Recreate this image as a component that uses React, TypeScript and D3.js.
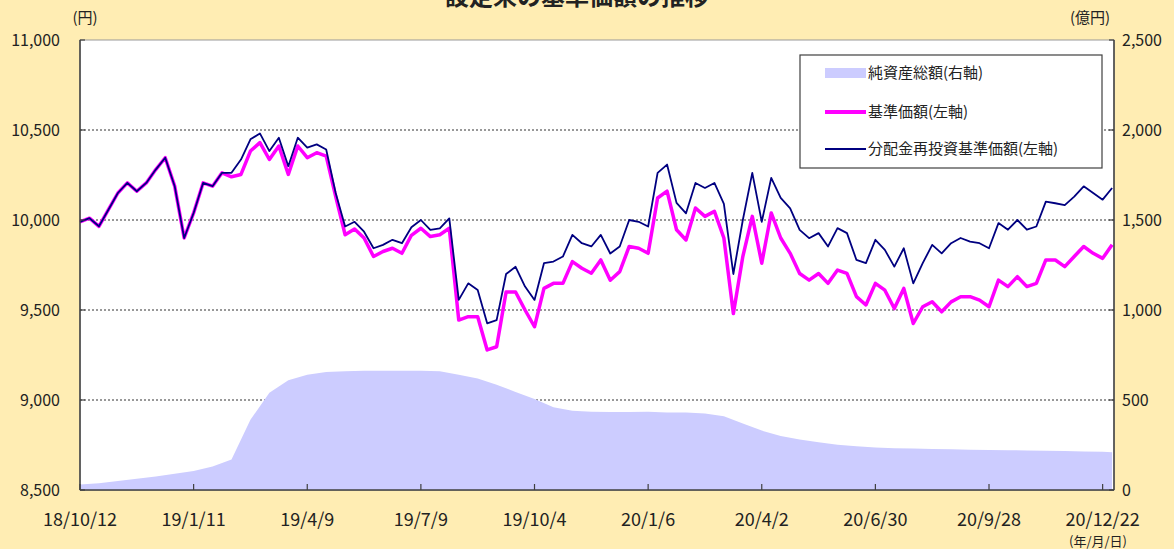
import React from 'react';
import * as d3 from 'd3';

// chart text
const TITLE = '設定来の基準価額の推移';
const X_LABELS = ['18/10/12', '19/1/11', '19/4/9', '19/7/9', '19/10/4', '20/1/6', '20/4/2', '20/6/30', '20/9/28', '20/12/22'];
const X_TICK_IDX = [0, 60, 120, 180, 240, 300, 360, 420, 480, 540];
const LEFT_TICKS = [8500, 9000, 9500, 10000, 10500, 11000];
const RIGHT_TICKS = [0, 500, 1000, 1500, 2000, 2500];
const GRID_TICKS = [9000, 9500, 10000, 10500];
const LEGEND = ['純資産総額(右軸)', '基準価額(左軸)', '分配金再投資基準価額(左軸)'];

// business-day index of each line sample
const LINE_IDX = d3.range(0, 546, 5);

// 分配金再投資基準価額 (円)
const NAV_REINVEST = [
  9990, 10010, 9965, 10057, 10150, 10206, 10160, 10206, 10280, 10346,
  10188, 9900, 10039, 10206, 10188, 10262, 10262, 10336, 10448, 10481,
  10383, 10457, 10299, 10457, 10402, 10420, 10392, 10150, 9964, 9990,
  9935, 9843, 9862, 9890, 9871, 9960, 10000, 9945, 9954, 10009,
  9556, 9648, 9611, 9426, 9444, 9700, 9740, 9630, 9556, 9760,
  9769, 9797, 9917, 9871, 9853, 9917, 9814, 9853, 10000, 9990,
  9964, 10262, 10308, 10095, 10037, 10206, 10178, 10206, 10090, 9700,
  10000, 10262, 9990, 10234, 10123, 10065, 9945, 9899, 9927, 9853,
  9955, 9927, 9778, 9760, 9890, 9834, 9741, 9843, 9648, 9760,
  9862, 9815, 9871, 9900, 9880, 9871, 9843, 9983, 9946, 10000,
  9946, 9964, 10102, 10093, 10083, 10130, 10187, 10150, 10113, 10178,
];

// 基準価額 (円)
const NAV = [
  9990, 10010, 9965, 10057, 10150, 10206, 10160, 10206, 10280, 10346,
  10188, 9900, 10039, 10206, 10188, 10262, 10240, 10253, 10383, 10430,
  10336, 10411, 10253, 10411, 10346, 10374, 10355, 10132, 9918, 9950,
  9900, 9797, 9825, 9843, 9815, 9915, 9954, 9908, 9918, 9954,
  9444, 9463, 9463, 9278, 9296, 9600, 9600, 9500, 9407, 9620,
  9648, 9648, 9769, 9732, 9704, 9778, 9665, 9713, 9853, 9843,
  9815, 10122, 10160, 9946, 9889, 10067, 10020, 10048, 9900, 9480,
  9797, 10020, 9760, 10039, 9900, 9815, 9703, 9666, 9703, 9648,
  9722, 9703, 9574, 9528, 9648, 9610, 9508, 9620, 9425, 9518,
  9546, 9490, 9545, 9574, 9574, 9555, 9518, 9666, 9630, 9685,
  9630, 9648, 9778, 9778, 9741, 9797, 9853, 9815, 9787, 9862,
];

// 純資産総額 (億円)
const ASSET_IDX = [
  0, 10, 20, 30, 40, 50, 60, 70, 80, 90, 100, 110, 120, 130, 140, 150, 160, 170, 180, 190,
  200, 210, 220, 230, 240, 250, 260, 270, 280, 290, 300, 310, 320, 330, 340, 350, 360, 370, 380, 390,
  400, 410, 420, 430, 440, 450, 460, 470, 480, 490, 500, 510, 520, 530, 540, 545,
];
const ASSETS = [
  30, 38, 50, 62, 75, 90, 105, 130, 170, 390, 540, 610, 640, 655, 660, 662, 662, 662, 662, 660,
  640, 620, 585, 545, 505, 460, 440, 435, 433, 433, 435, 430, 430, 425, 410, 370, 330, 300, 280, 265,
  252, 243, 236, 232, 230, 228, 226, 224, 222, 221, 220, 218, 216, 214, 212, 210,
];

const W = 1174;
const H = 549;
const M = { left: 80, right: 1114, top: 40, bottom: 490 };
const FONT = "'Noto Sans CJK JP', 'Noto Sans', sans-serif";
const BG = '#FFEDB3';
const AREA_COLOR = '#CCCCFF';
const PINK = '#FF00FF';
const NAVY = '#000080';
const INK = '#222';

export default function App() {
  const x = d3.scaleLinear().domain([0, 546]).range([M.left, M.right]);
  const yL = d3.scaleLinear().domain([8500, 11000]).range([M.bottom, M.top]);
  const yR = d3.scaleLinear().domain([0, 2500]).range([M.bottom, M.top]);

  const area = d3.area<number>()
    .x((_, i) => x(ASSET_IDX[i]))
    .y0(M.bottom)
    .y1(d => yR(d));

  const line = d3.line<number>()
    .x((_, i) => x(LINE_IDX[i]))
    .y(d => yL(d));

  const lg = { x: 800, y: 55, w: 302, h: 113 };

  return (
    <div style={{ position: 'fixed', left: 0, top: 0 }}>
      <svg width={W} height={H} style={{ display: 'block', fontFamily: FONT }}>
        <rect x={0} y={0} width={W} height={H} fill={BG} />
        {/* title is cut off at the top edge, as in the source image */}
        <text x={577} y={5} textAnchor="middle" fontSize={24} fontWeight="bold" fill={INK}>{TITLE}</text>

        {/* plot area */}
        <rect x={M.left} y={M.top} width={M.right - M.left} height={M.bottom - M.top} fill="#fff" stroke="#9a9a9a" strokeWidth={1} />

        {GRID_TICKS.map(t => (
          <line key={t} x1={M.left} x2={M.right} y1={yL(t)} y2={yL(t)} stroke="#333" strokeWidth={1} strokeDasharray="2 2" />
        ))}

        <path d={area(ASSETS) || ''} fill={AREA_COLOR} />
        <path d={line(NAV) || ''} fill="none" stroke={PINK} strokeWidth={3.5} strokeLinejoin="round" />
        <path d={line(NAV_REINVEST) || ''} fill="none" stroke={NAVY} strokeWidth={1.8} strokeLinejoin="round" />

        {/* axes */}
        <line x1={M.left} x2={M.left} y1={M.top} y2={M.bottom} stroke="#404040" strokeWidth={1.5} />
        <line x1={M.right} x2={M.right} y1={M.top} y2={M.bottom} stroke="#404040" strokeWidth={1.5} />
        <line x1={M.left} x2={M.right} y1={M.bottom} y2={M.bottom} stroke="#404040" strokeWidth={1.5} />

        {LEFT_TICKS.map(t => (
          <g key={t}>
            <line x1={M.left} x2={M.left + 5} y1={yL(t)} y2={yL(t)} stroke="#404040" strokeWidth={1.2} />
            <text x={60} y={yL(t)} dy="0.35em" textAnchor="end" fontSize={16} fill={INK}>{d3.format(',')(t)}</text>
          </g>
        ))}
        {RIGHT_TICKS.map(t => (
          <g key={t}>
            <line x1={M.right - 5} x2={M.right} y1={yR(t)} y2={yR(t)} stroke="#404040" strokeWidth={1.2} />
            <text x={1122} y={yR(t)} dy="0.35em" textAnchor="start" fontSize={16} fill={INK}>{d3.format(',')(t)}</text>
          </g>
        ))}
        {X_TICK_IDX.map((t, i) => (
          <g key={t}>
            <line x1={x(t)} x2={x(t)} y1={M.bottom} y2={M.bottom - 6} stroke="#404040" strokeWidth={1.2} />
            <text x={x(t)} y={520} dy="0.35em" textAnchor="middle" fontSize={18} fill={INK}>{X_LABELS[i]}</text>
          </g>
        ))}

        <text x={85} y={18} dy="0.35em" textAnchor="middle" fontSize={15} fill={INK}>(円)</text>
        <text x={1090} y={18} dy="0.35em" textAnchor="middle" fontSize={15} fill={INK}>(億円)</text>
        <text x={1098} y={541} dy="0.35em" textAnchor="middle" fontSize={13} fill={INK}>(年/月/日)</text>

        {/* legend */}
        <rect x={lg.x} y={lg.y} width={lg.w} height={lg.h} fill="#fff" stroke="#404040" strokeWidth={1.2} />
        <rect x={825} y={68} width={41} height={10} fill={AREA_COLOR} />
        <line x1={825} x2={866} y1={112} y2={112} stroke={PINK} strokeWidth={4} />
        <line x1={825} x2={866} y1={149} y2={149} stroke={NAVY} strokeWidth={2} />
        {LEGEND.map((s, i) => (
          <text key={s} x={868} y={[73, 112, 149][i]} dy="0.35em" fontSize={15} fill={INK}>{s}</text>
        ))}
      </svg>
    </div>
  );
}
